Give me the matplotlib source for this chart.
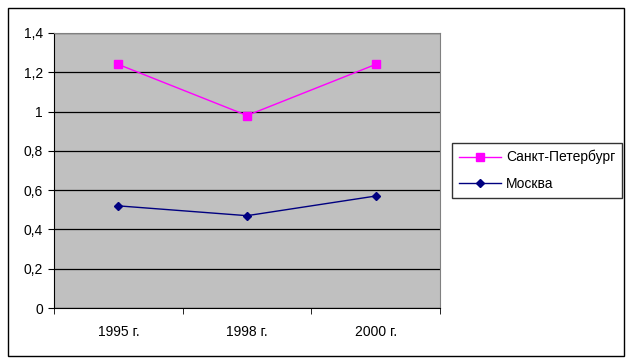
import matplotlib
matplotlib.use("Agg")
import matplotlib.pyplot as plt
from matplotlib.patches import Rectangle

plt.rcParams['font.family'] = ['Liberation Sans', 'DejaVu Sans']

categories = ["1995 г.", "1998 г.", "2000 г."]
spb = [1.24, 0.98, 1.24]
msk = [0.52, 0.47, 0.57]
yticks = [0, 0.2, 0.4, 0.6, 0.8, 1.0, 1.2, 1.4]
ylabels = ["0", "0,2", "0,4", "0,6", "0,8", "1", "1,2", "1,4"]

fig = plt.figure(figsize=(6.32, 3.64), dpi=100)
fig.patches.append(Rectangle((8/632, 8/364), 616/632, 348/364, transform=fig.transFigure,
                             fill=False, edgecolor='black', linewidth=1))
ax = fig.add_axes([54/632, 56/364, 386/632, 275/364])
ax.set_facecolor('#C0C0C0')
x = list(range(len(categories)))
ax.plot(x, spb, color='#FF00FF', marker='s', markersize=5.5, linewidth=1, label='Санкт-Петербург')
ax.plot(x, msk, color='#000080', marker='D', markersize=4.5, linewidth=1, label='Москва')
ax.set_xlim(-0.5, 2.5)
ax.set_ylim(0, 1.4)
ax.set_yticks(yticks)
ax.set_yticklabels(ylabels)
ax.set_xticks(x)
ax.set_xticklabels(categories)
ax.set_xticks([-0.5, 0.5, 1.5, 2.5], minor=True)
ax.tick_params(axis='x', which='major', length=0, pad=12, labelsize=10)
ax.tick_params(axis='x', which='minor', length=4, direction='out')
ax.tick_params(axis='y', length=4, direction='out', labelsize=10, pad=4)
ax.yaxis.grid(True, color='black', linewidth=0.9)
ax.set_axisbelow(True)
for s in ['top', 'right']:
    ax.spines[s].set_color('#808080')
for s in ['left', 'bottom']:
    ax.spines[s].set_color('black')
leg = ax.legend(loc='upper left', bbox_to_anchor=(452/632, (364-143)/364), bbox_transform=fig.transFigure,
                frameon=True, fancybox=False, edgecolor='black', fontsize=10, borderaxespad=0,
                handlelength=3.0, labelspacing=0.9, borderpad=0.5, handletextpad=0.4)
leg.get_frame().set_linewidth(1)
fig.savefig('out.png', dpi=100)
